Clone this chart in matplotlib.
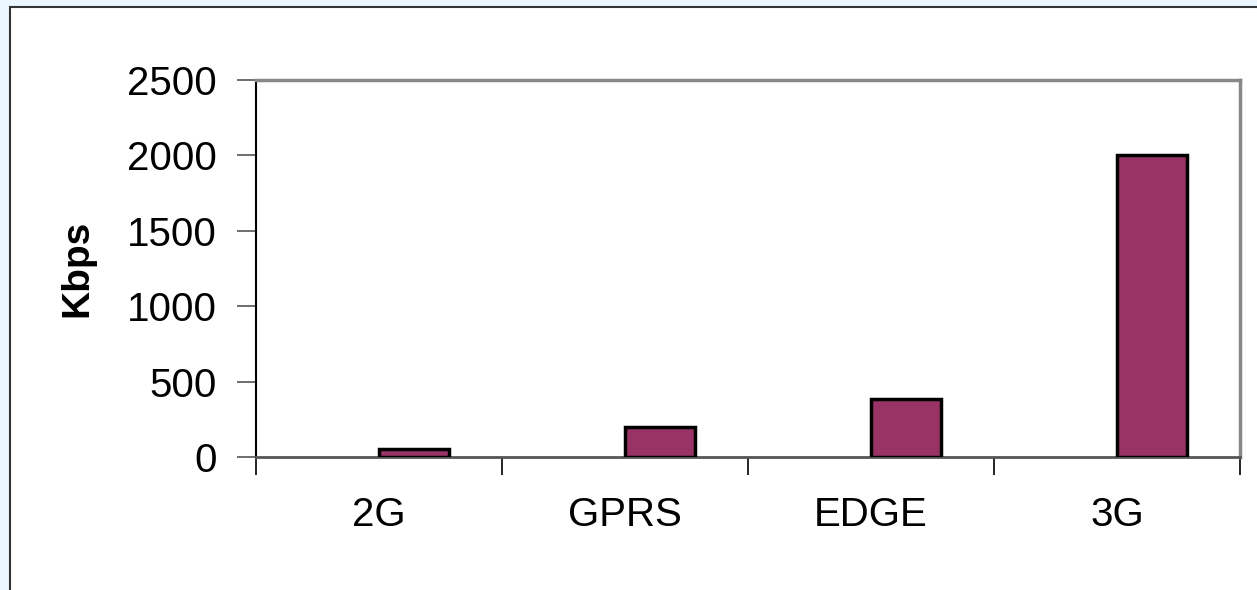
import matplotlib.pyplot as plt
from matplotlib.patches import Rectangle

plt.rcParams['font.family'] = ['Liberation Sans', 'DejaVu Sans']

categories = ['2G', 'GPRS', 'EDGE', '3G']
speeds = [50, 200, 384, 2000]
y_ticks = [0, 500, 1000, 1500, 2000, 2500]

fig = plt.figure(figsize=(12.57, 5.9), dpi=100)
fig.patch.set_facecolor('#eaf6fd')

# white chart area with dark border, running off the right/bottom edge
fig.patches.append(Rectangle((10 / 1257, -0.1), 1.2, 1 - 7 / 590 + 0.1,
                             transform=fig.transFigure, facecolor='white',
                             edgecolor='#333333', linewidth=1.5, zorder=-5))

ax = fig.add_axes([256 / 1257, 1 - 457 / 590, (1240 - 256) / 1257, (457 - 80) / 590])
ax.set_facecolor('white')

x = range(len(categories))
ax.bar([i + 0.143 for i in x], speeds, width=0.286, color='#993366',
       edgecolor='black', linewidth=2.5, zorder=3)

ax.set_xlim(-0.5, 3.5)
ax.set_ylim(0, 2500)
ax.set_yticks(y_ticks)
ax.set_yticklabels([str(v) for v in y_ticks], fontsize=29)
ax.set_xticks([i - 0.5 for i in range(len(categories) + 1)], minor=False)
ax.set_xticklabels([])
ax.set_xticks(list(x), minor=True)
ax.set_xticklabels(categories, minor=True, fontsize=29)
ax.tick_params(axis='x', which='minor', length=0, pad=28)
ax.tick_params(axis='x', which='major', length=13, width=1.2, color='black')
ax.tick_params(axis='y', length=14, width=1.2, color='#555555', pad=14)

ax.set_ylabel('Kbps', fontsize=28, fontweight='bold', labelpad=23)

for side in ['top', 'right']:
    ax.spines[side].set_color('#888888')
    ax.spines[side].set_linewidth(2.5)
ax.spines['left'].set_color('black')
ax.spines['left'].set_linewidth(1.5)
ax.spines['bottom'].set_color('#555555')
ax.spines['bottom'].set_linewidth(2)

fig.savefig('out.png', dpi=100, facecolor=fig.get_facecolor())
